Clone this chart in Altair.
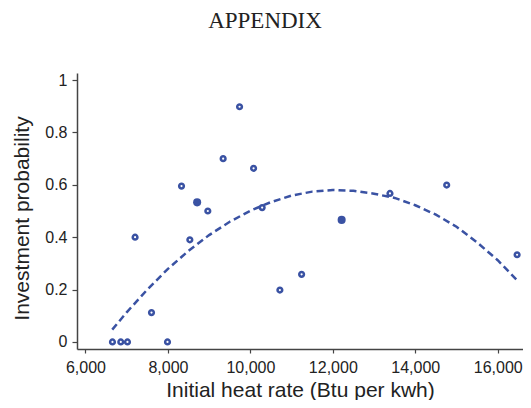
import altair as alt
import pandas as pd

# Scatter points
heat_rate = [6655, 6857, 7019, 7204, 7602, 7990, 8330, 8532, 8709, 8968,
             9340, 9738, 10078, 10286, 10716, 11243, 12214, 13386, 14762, 16470]
probability = [0.0, 0.0, 0.0, 0.40, 0.112, 0.0, 0.595, 0.39, 0.533, 0.50,
               0.70, 0.898, 0.663, 0.513, 0.198, 0.258, 0.466, 0.567, 0.599, 0.333]
filled = [False, False, False, False, False, False, False, False, True, False,
          False, False, False, False, False, False, True, False, False, False]

# Fitted curve
curve_x = [6650, 7000, 7500, 8000, 8500, 9000, 9500, 10000, 10500, 11000, 11500,
           12000, 12500, 13000, 13500, 14000, 14500, 15000, 15500, 16000, 16460]
curve_y = [0.047, 0.113, 0.200, 0.279, 0.348, 0.408, 0.459, 0.501, 0.534, 0.559, 0.574,
           0.580, 0.577, 0.566, 0.550, 0.522, 0.486, 0.440, 0.380, 0.312, 0.237]

x_ticks = [6000, 8000, 10000, 12000, 14000, 16000]
y_ticks = [0, 0.2, 0.4, 0.6, 0.8, 1]

COLOR = "#3a52a3"
AXIS = "#444444"

pts = pd.DataFrame({"x": heat_rate, "y": probability, "filled": filled})
crv = pd.DataFrame({"x": curve_x, "y": curve_y})

xscale = alt.Scale(domain=[5795, 16613], nice=False, zero=False)
yscale = alt.Scale(domain=[-0.027, 1.027], nice=False, zero=False)

xaxis = alt.Axis(values=x_ticks, format=",d", title="Initial heat rate (Btu per kwh)",
                 grid=False, domainColor=AXIS, domainWidth=1.5, tickColor=AXIS,
                 tickWidth=1.2, tickSize=4, labelFont="Liberation Sans", labelFontSize=16,
                 labelColor="#222222", labelPadding=6, titleFont="Liberation Sans",
                 titleFontSize=21, titleFontWeight="normal", titleColor="#222222",
                 titlePadding=4)
yaxis = alt.Axis(values=y_ticks, format=".1~f", title="Investment probability",
                 grid=False, domainColor=AXIS, domainWidth=1.5, tickColor=AXIS,
                 tickWidth=1.2, tickSize=5, labelFont="Liberation Sans", labelFontSize=16,
                 labelColor="#222222", labelPadding=5, titleFont="Liberation Sans",
                 titleFontSize=21, titleFontWeight="normal", titleColor="#222222",
                 titlePadding=12, titleY=145)

open_pts = alt.Chart(pts).transform_filter("!datum.filled").mark_point(
    shape="circle", filled=False, size=22, strokeWidth=2.5, color=COLOR, opacity=1
).encode(x=alt.X("x:Q", scale=xscale, axis=xaxis), y=alt.Y("y:Q", scale=yscale, axis=yaxis))

solid_pts = alt.Chart(pts).transform_filter("datum.filled").mark_point(
    shape="circle", filled=True, size=65, color=COLOR, opacity=1
).encode(x=alt.X("x:Q", scale=xscale), y=alt.Y("y:Q", scale=yscale))

line = alt.Chart(crv).mark_line(
    color=COLOR, strokeWidth=2.5, strokeDash=[7, 4]
).encode(x=alt.X("x:Q", scale=xscale), y=alt.Y("y:Q", scale=yscale))

chart = alt.layer(line, open_pts, solid_pts).properties(
    width=446, height=276,
    title=alt.TitleParams("APPENDIX", font="Liberation Serif", fontSize=23,
                          fontWeight="normal", color="#222222", anchor="middle",
                          dx=-35, offset=39),
    padding={"left": 69, "top": 65, "right": 0, "bottom": 51},
    autosize=alt.AutoSizeParams(type="none"),
).configure_view(stroke=None)

chart.save("out.html", embed_options={"renderer": "svg", "actions": False})
